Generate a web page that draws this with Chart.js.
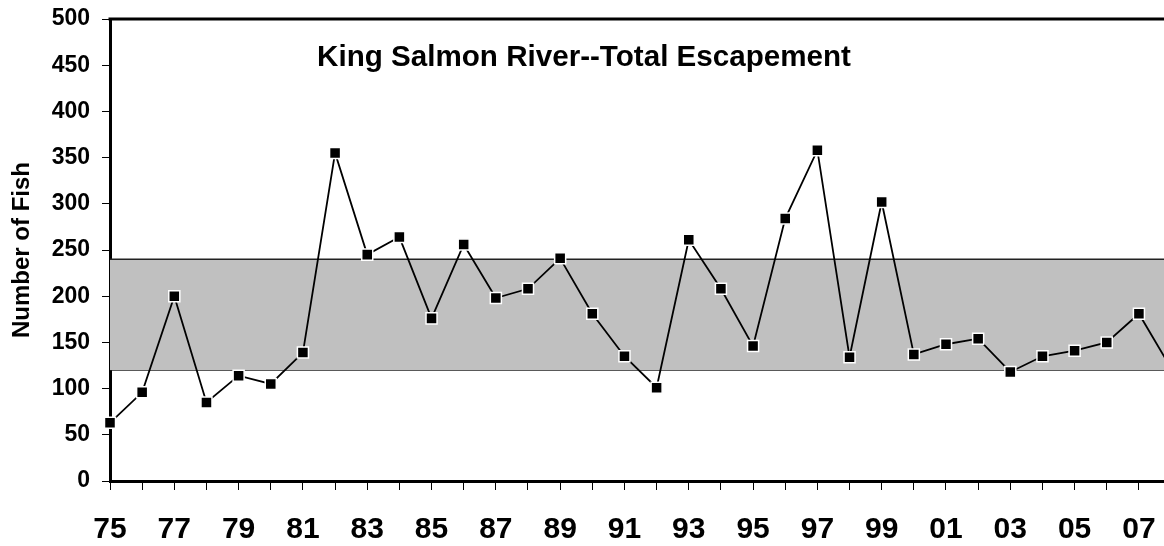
<!DOCTYPE html>
<html>
<head>
<meta charset="utf-8">
<script src="https://cdn.jsdelivr.net/npm/chart.js@4"></script>
<style>
  html, body { margin: 0; padding: 0; background: #fff; }
  #wrap { width: 1164px; height: 546px; position: relative; }
</style>
</head>
<body>
<div id="wrap"><canvas id="chart"></canvas></div>
<script>
const years = ['75','76','77','78','79','80','81','82','83','84','85','86','87','88','89','90','91',
  '92','93','94','95','96','97','98','99','00','01','02','03','04','05','06','07','08'];
const escapement = [63, 96, 200, 85, 114, 105, 139, 355, 245, 264, 176, 256, 198, 208, 241, 181, 135,
  101, 261, 208, 146, 284, 358, 134, 302, 137, 148, 154, 118, 135, 141, 150, 181, 122];
const bandLow = 120;
const bandHigh = 240;
const titleText = 'King Salmon River--Total Escapement';

const FONT = "'Liberation Sans', Arial, sans-serif";

// the plot runs off the right edge of the picture: stretch the chart area to the canvas edge
const runOff = {
  id: 'runOff',
  afterLayout(chart) {
    const area = chart.chartArea;
    const x = chart.scales.x;
    area.right = chart.width;
    area.width = area.right - area.left;
    x.right = chart.width;
    x.width = x.right - x.left;
    x.configure();
  }
};

// title sits inside the plot, plus the closing top border line
const plotExtras = {
  id: 'plotExtras',
  afterDraw(chart) {
    const { ctx, chartArea } = chart;
    ctx.save();
    ctx.strokeStyle = '#000';
    ctx.lineWidth = 3;
    ctx.beginPath();
    ctx.moveTo(chartArea.left - 1.5, chartArea.top);
    ctx.lineTo(chart.width, chartArea.top);
    ctx.stroke();
    ctx.fillStyle = '#000';
    ctx.font = 'bold 29.6px ' + FONT;
    ctx.textAlign = 'center';
    ctx.textBaseline = 'alphabetic';
    ctx.fillText(titleText, chartArea.left + 474, chartArea.top + 47);
    ctx.restore();
  }
};

const points = escapement.map((v, i) => ({ x: i, y: v }));
const last = years.length - 1;

new Chart(document.getElementById('chart'), {
  type: 'line',
  data: {
    datasets: [
      {
        data: points,
        borderColor: '#000',
        borderWidth: 1.8,
        pointStyle: 'rect',
        pointRadius: 7.8,
        pointHoverRadius: 7.8,
        pointBackgroundColor: '#000',
        pointBorderColor: '#fff',
        pointBorderWidth: 1.5,
        tension: 0,
        clip: false,
        order: 0
      },
      {
        data: [{ x: 0, y: bandHigh }, { x: last, y: bandHigh }],
        borderColor: '#222',
        borderWidth: 1.5,
        pointRadius: 0,
        backgroundColor: '#c0c0c0',
        fill: '+1',
        order: 1
      },
      {
        data: [{ x: 0, y: bandLow }, { x: last, y: bandLow }],
        borderColor: '#222',
        borderWidth: 1.5,
        pointRadius: 0,
        fill: false,
        order: 2
      }
    ]
  },
  options: {
    responsive: true,
    maintainAspectRatio: false,
    animation: false,
    layout: { padding: { top: 19, right: 0, left: 0, bottom: 0 } },
    plugins: {
      legend: { display: false },
      tooltip: { enabled: false }
    },
    scales: {
      x: {
        type: 'linear',
        min: 0,
        max: 32.78,
        grid: {
          drawOnChartArea: false,
          drawTicks: true,
          tickLength: 9,
          color: '#000',
          lineWidth: 1
        },
        border: { color: '#000', width: 3 },
        ticks: {
          stepSize: 1,
          includeBounds: false,
          autoSkip: false,
          maxRotation: 0,
          padding: 22,
          color: '#000',
          font: { family: FONT, size: 30, weight: 'bold' },
          callback: (v) => (Number.isInteger(v) && v % 2 === 0 ? years[v] : '')
        },
        afterFit: (scale) => {
          scale.height = 65;
          scale.paddingLeft = 0;
          scale.paddingRight = 0;
        }
      },
      y: {
        min: 0,
        max: 500,
        grid: {
          drawOnChartArea: false,
          drawTicks: true,
          tickLength: 8,
          color: '#000',
          lineWidth: 1
        },
        border: { color: '#000', width: 3 },
        ticks: {
          stepSize: 50,
          padding: 12,
          color: '#000',
          font: { family: FONT, size: 23, weight: 'bold' }
        },
        title: {
          display: true,
          text: 'Number of Fish',
          color: '#000',
          font: { family: FONT, size: 24, weight: 'bold' },
          padding: { top: 8, bottom: 0 }
        },
        afterFit: (scale) => {
          scale.width = 110;
          scale.paddingTop = 0;
          scale.paddingBottom = 0;
        }
      }
    }
  },
  plugins: [runOff, plotExtras]
});
</script>
</body>
</html>
